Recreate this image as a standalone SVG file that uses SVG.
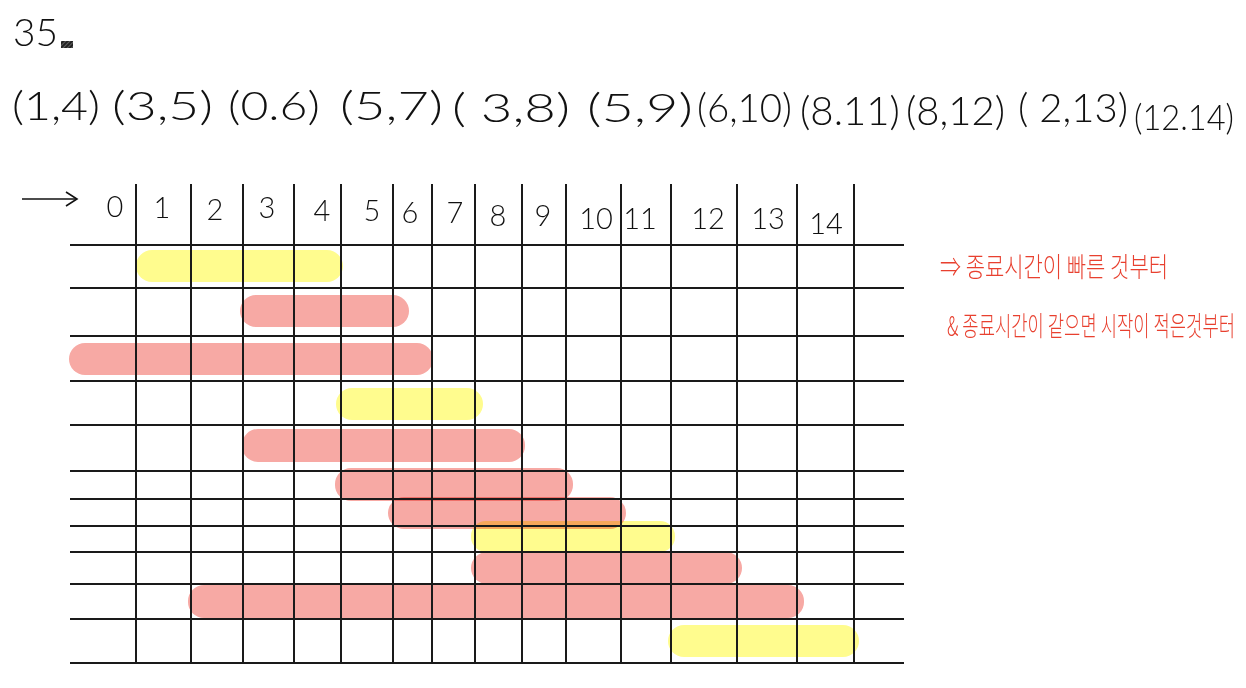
<svg xmlns="http://www.w3.org/2000/svg" width="1246" height="688" viewBox="0 0 1246 688">
<defs>
<style>
.hw{font-family:"Lato","Open Sans","Liberation Sans",sans-serif;font-weight:300;fill:#111;}
.tup{font-size:40px;}
.hd{font-size:29px;text-anchor:middle;}
.kr{font-family:"Noto Sans CJK KR","Noto Sans",sans-serif;font-weight:300;fill:#e8402f;}
.y{fill:#fffc8e;mix-blend-mode:multiply;}
.r{fill:#f7a9a4;mix-blend-mode:multiply;}
.g line{stroke:#1a1a1a;stroke-width:2;}
</style>
<pattern id="hatch" width="3" height="3" patternUnits="userSpaceOnUse" patternTransform="rotate(45)">
<rect width="3" height="3" fill="#222"/>
<line x1="0" y1="0" x2="0" y2="3" stroke="#999" stroke-width="1"/>
</pattern>
</defs>
<rect width="1246" height="688" fill="#fff"/>

<g id="title">
<text class="hw" x="13" y="46" font-size="38" textLength="45" lengthAdjust="spacingAndGlyphs">35</text>
<rect x="61" y="41" width="12" height="7" fill="url(#hatch)"/>
</g>

<g id="tuples" class="hw tup">
<text x="12" y="120" textLength="88" lengthAdjust="spacingAndGlyphs">(1,4)</text>
<text x="112" y="120" textLength="101" lengthAdjust="spacingAndGlyphs">(3,5)</text>
<text x="228" y="120" textLength="92" lengthAdjust="spacingAndGlyphs">(0.6)</text>
<text x="340" y="120" textLength="103" lengthAdjust="spacingAndGlyphs">(5,7)</text>
<text x="452" y="122" textLength="118" lengthAdjust="spacingAndGlyphs">( 3,8)</text>
<text x="587" y="122" textLength="106" lengthAdjust="spacingAndGlyphs">(5,9)</text>
<text x="697" y="122" textLength="95" lengthAdjust="spacingAndGlyphs">(6,10)</text>
<text x="800" y="125" textLength="100" lengthAdjust="spacingAndGlyphs">(8.11)</text>
<text x="906" y="125" textLength="99" lengthAdjust="spacingAndGlyphs">(8,12)</text>
<text x="1018" y="122" textLength="110" lengthAdjust="spacingAndGlyphs">( 2,13)</text>
<text x="1134" y="130" font-size="36" textLength="100" lengthAdjust="spacingAndGlyphs">(12.14)</text>
</g>

<g id="arrow" fill="none" stroke="#111" stroke-width="1.6">
<path d="M22 199 H77"/>
<path d="M66 192 L77 199 L66 206"/>
</g>

<g id="header" class="hw hd">
<text x="115" y="217">0</text>
<text x="162" y="218">1</text>
<text x="215" y="220">2</text>
<text x="267" y="218">3</text>
<text x="322" y="221">4</text>
<text x="372" y="221">5</text>
<text x="410" y="223">6</text>
<text x="455" y="223">7</text>
<text x="498" y="226">8</text>
<text x="543" y="226">9</text>
<text x="596" y="229">10</text>
<text x="640" y="229">11</text>
<text x="708" y="229">12</text>
<text x="768" y="229">13</text>
<text x="826" y="234">14</text>
</g>

<g id="bars">
<rect class="y" x="136" y="250" width="207" height="32" rx="16"/>
<rect class="r" x="240" y="295" width="169" height="32" rx="16"/>
<rect class="r" x="69" y="343" width="364" height="32" rx="16"/>
<rect class="y" x="336" y="388" width="147" height="32" rx="16"/>
<rect class="r" x="242" y="429" width="283" height="33" rx="16"/>
<rect class="r" x="335" y="468" width="238" height="33" rx="16"/>
<rect class="r" x="388" y="497" width="238" height="32" rx="16"/>
<rect class="y" x="471" y="521" width="204" height="31" rx="15"/>
<rect class="r" x="471" y="552" width="271" height="32" rx="16"/>
<rect class="r" x="188" y="585" width="616" height="33" rx="16"/>
<rect class="y" x="668" y="625" width="191" height="32" rx="16"/>
</g>

<g id="grid" class="g">
<line x1="136" y1="184" x2="136" y2="663"/>
<line x1="191" y1="184" x2="191" y2="663"/>
<line x1="243" y1="184" x2="243" y2="663"/>
<line x1="294" y1="184" x2="294" y2="663"/>
<line x1="341" y1="184" x2="341" y2="663"/>
<line x1="393" y1="184" x2="393" y2="663"/>
<line x1="432" y1="184" x2="432" y2="663"/>
<line x1="475" y1="184" x2="475" y2="663"/>
<line x1="522" y1="184" x2="522" y2="663"/>
<line x1="566" y1="184" x2="566" y2="663"/>
<line x1="621" y1="184" x2="621" y2="663"/>
<line x1="671" y1="184" x2="671" y2="663"/>
<line x1="737" y1="184" x2="737" y2="663"/>
<line x1="797" y1="184" x2="797" y2="663"/>
<line x1="854" y1="184" x2="854" y2="663"/>
<line x1="70" y1="245" x2="904" y2="245"/>
<line x1="70" y1="288" x2="904" y2="288"/>
<line x1="70" y1="336" x2="904" y2="336"/>
<line x1="70" y1="381" x2="904" y2="381"/>
<line x1="70" y1="425" x2="904" y2="425"/>
<line x1="70" y1="471" x2="904" y2="471"/>
<line x1="70" y1="499" x2="904" y2="499"/>
<line x1="70" y1="526" x2="904" y2="526"/>
<line x1="70" y1="552" x2="904" y2="552"/>
<line x1="70" y1="584" x2="904" y2="584"/>
<line x1="70" y1="619" x2="904" y2="619"/>
<line x1="70" y1="663" x2="904" y2="663"/>
</g>

<g id="notes" class="kr">
<text transform="translate(940 277) scale(1 1.45)" font-size="19" textLength="228" lengthAdjust="spacingAndGlyphs">⇒ 종료시간이  빠른 것부터</text>
<text transform="translate(947 336) scale(1 1.5)" font-size="18" textLength="288" lengthAdjust="spacingAndGlyphs">&amp; 종료시간이 같으면  시작이 적은것부터</text>
</g>
</svg>
